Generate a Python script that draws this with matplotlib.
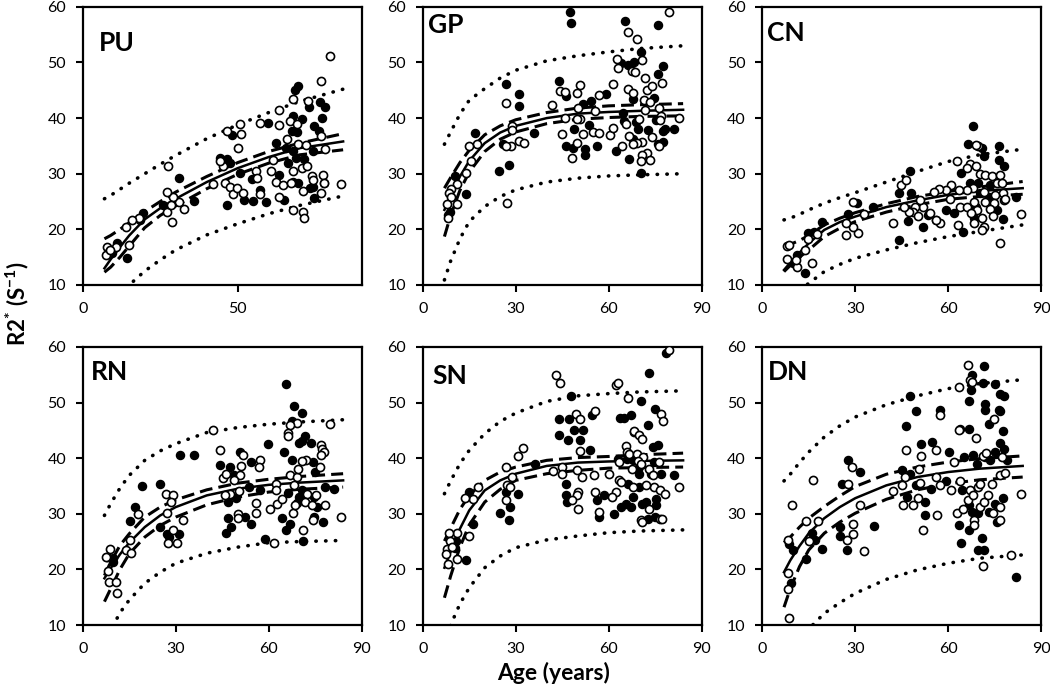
import matplotlib
matplotlib.use("Agg")
import matplotlib.pyplot as plt

plt.rcParams['font.family'] = ['Lato', 'DejaVu Sans']
plt.rcParams['mathtext.fontset'] = 'custom'
plt.rcParams['mathtext.rm'] = 'Lato'
plt.rcParams['mathtext.bf'] = 'Lato:bold'

# ---- data ----
fit_age = [7, 9, 12, 15, 20, 25, 30, 40, 50, 60, 70, 84]

# PU
pu_open_age = [79.7, 76.9, 67.7, 72.8, 63.2, 57.1, 50.8, 51.0, 46.5, 50.1, 63.2, 66.9, 69.0, 66.0, 69.4, 72.0, 77.0, 78.2,
               61.5, 45.2, 44.3, 60.6, 55.9, 56.1, 62.5, 64.5, 67.1, 67.9, 70.6, 72.3, 73.9, 74.4, 77.4, 77.7, 83.2, 76.9,
               70.9, 63.2, 67.9, 71.0, 71.5, 46.0, 47.5, 48.6, 49.9, 51.8, 57.3, 41.9, 32.7, 31.0, 29.0, 27.1, 27.4, 27.1,
               28.7, 28.4, 18.3, 15.9, 14.0, 14.8, 10.6, 7.7, 8.5, 7.5, 8.8]
pu_open_r2 = [51.1, 46.6, 43.4, 43.0, 41.4, 39.2, 38.9, 37.2, 37.7, 34.6, 38.7, 39.5, 38.9, 36.2, 35.3, 35.2, 36.8, 34.4,
              32.5, 31.4, 32.2, 30.4, 30.5, 29.2, 28.6, 28.0, 28.3, 30.4, 31.0, 31.4, 29.6, 28.9, 29.8, 28.3, 28.1, 26.6,
              26.9, 25.8, 23.5, 23.1, 22.0, 28.3, 27.7, 26.3, 27.4, 26.6, 26.3, 28.1, 23.7, 24.9, 25.9, 26.8, 31.3, 23.2,
              21.4, 24.4, 22.0, 21.6, 20.5, 17.2, 16.8, 16.9, 16.0, 15.4, 16.2]
pu_fill_age = [69.6, 68.6, 73.0, 76.6, 78.0, 77.2, 67.7, 70.8, 59.9, 74.7, 76.2, 67.4, 69.1, 62.2, 65.5, 67.7, 74.2, 68.8,
               71.4, 66.1, 46.5, 44.3, 47.5, 50.8, 54.5, 63.4, 67.9, 69.6, 73.3, 77.8, 74.4, 64.8, 74.7, 57.2, 55.0, 52.0,
               59.0, 46.5, 48.1, 31.1, 35.9, 26.0, 19.6, 18.5, 14.2, 11.0, 9.4]
pu_fill_r2 = [45.7, 45.1, 42.0, 42.9, 42.0, 40.1, 40.4, 39.8, 39.2, 38.5, 37.6, 37.7, 37.5, 35.6, 34.6, 34.0, 34.0, 32.8,
              32.6, 32.0, 32.6, 32.8, 31.9, 30.1, 29.0, 29.8, 28.6, 28.3, 27.4, 28.3, 27.7, 25.3, 25.6, 27.1, 25.1, 25.3,
              25.0, 24.3, 36.9, 29.3, 25.1, 24.4, 22.9, 21.7, 14.8, 17.5, 15.7]
pu_fit = [13.0, 14.6, 16.8, 18.9, 21.8, 23.8, 25.5, 28.5, 31.0, 33.0, 34.6, 35.8]
pu_ci_hi = [18.3, 18.9, 20.0, 21.2, 23.2, 25.0, 26.7, 29.5, 32.0, 34.0, 35.5, 37.2]
pu_ci_lo = [12.3, 13.2, 15.0, 17.0, 20.3, 22.5, 24.2, 27.3, 29.9, 31.9, 33.4, 34.3]
pu_pi_hi = [25.5, 26.1, 27.2, 28.3, 30.0, 31.7, 33.3, 36.3, 38.8, 41.0, 43.0, 45.2]
pu_pi_lo = [6.0, 7.3, 8.8, 10.0, 12.5, 14.5, 16.3, 19.0, 21.0, 22.8, 24.3, 26.0]

# GP
gp_open_age = [79.5, 66.1, 69.0, 62.6, 62.9, 70.7, 67.4, 68.6, 71.8, 72.5, 74.1, 77.1, 66.3, 67.7, 61.3, 56.8, 50.6, 49.8,
               44.4, 45.8, 41.8, 50.0, 50.8, 49.7, 45.9, 51.6, 55.7, 54.9, 56.8, 60.4, 45.0, 49.7, 48.2, 61.3, 65.6, 64.2,
               66.5, 69.8, 71.5, 73.3, 76.1, 76.8, 76.6, 82.7, 74.1, 76.3, 70.7, 72.5, 70.7, 70.4, 73.3, 69.0, 67.7, 27.0,
               28.9, 28.9, 30.9, 32.6, 28.5, 27.0, 27.2, 17.6, 15.0, 15.7, 14.0, 10.9, 9.1, 8.6, 9.1, 7.7, 10.9, 8.2, 71.8]
gp_open_r2 = [59.1, 55.5, 54.2, 50.7, 49.0, 50.4, 48.4, 48.3, 47.2, 45.1, 45.7, 46.3, 45.3, 44.6, 46.1, 44.1, 45.9, 44.6,
              44.9, 44.7, 42.3, 41.9, 39.9, 39.9, 40.1, 37.2, 41.3, 37.5, 37.4, 37.0, 37.1, 35.6, 32.9, 38.3, 38.9, 35.0,
              36.8, 39.9, 43.2, 42.9, 41.9, 40.4, 39.6, 40.1, 36.6, 35.0, 35.7, 33.7, 33.4, 32.3, 32.5, 35.6, 35.3, 42.8,
              38.6, 37.8, 35.9, 35.6, 34.9, 35.0, 24.8, 35.3, 35.0, 32.3, 30.1, 28.1, 27.2, 26.5, 25.9, 24.6, 24.6, 22.0, 41.4]
gp_fill_age = [47.4, 47.7, 65.4, 75.8, 70.4, 64.0, 66.2, 68.0, 77.6, 75.8, 74.5, 67.7, 43.8, 46.3, 51.6, 54.3, 59.1, 64.5,
               65.0, 68.8, 75.2, 78.2, 81.1, 48.8, 53.6, 46.3, 48.4, 52.2, 52.2, 56.2, 62.4, 66.5, 67.9, 69.5, 72.7, 75.9,
               77.4, 77.4, 70.4, 26.8, 30.9, 30.9, 24.6, 27.9, 25.9, 36.0, 16.8, 13.9, 10.3, 8.8, 8.3]
gp_fill_r2 = [59.0, 57.1, 57.5, 56.7, 51.8, 49.9, 49.6, 50.1, 49.3, 48.0, 43.7, 43.5, 46.6, 44.0, 42.5, 43.1, 44.3, 41.0,
              39.5, 39.3, 39.6, 38.1, 38.1, 38.1, 38.7, 34.9, 34.6, 34.4, 33.4, 34.9, 34.0, 32.6, 36.3, 38.1, 37.9, 35.4,
              37.6, 35.7, 30.1, 46.1, 44.3, 42.2, 30.4, 31.6, 35.3, 37.4, 37.4, 26.4, 29.6, 23.2, 22.6]
gp_fit = [23.5, 26.0, 29.5, 32.3, 35.5, 37.4, 38.6, 40.0, 40.8, 41.1, 41.3, 41.5]
gp_ci_hi = [27.4, 29.3, 32.0, 34.2, 37.0, 38.6, 39.7, 41.0, 41.8, 42.2, 42.4, 42.6]
gp_ci_lo = [18.7, 22.5, 27.0, 30.3, 34.0, 36.2, 37.5, 39.0, 39.8, 40.1, 40.3, 40.4]
gp_pi_hi = [35.3, 37.5, 40.7, 43.2, 45.3, 47.2, 48.6, 50.3, 51.2, 51.9, 52.5, 53.0]
gp_pi_lo = [10.9, 14.3, 18.3, 21.4, 24.1, 25.9, 27.1, 28.5, 29.2, 29.6, 29.8, 30.0]

# CN
cn_open_age = [69.5, 68.8, 62.8, 67.1, 69.0, 70.2, 66.1, 71.8, 74.1, 76.8, 75.8, 77.4, 77.6, 78.1, 71.4, 67.9, 66.1, 63.4,
               61.0, 59.4, 56.9, 55.5, 60.5, 63.9, 66.1, 68.3, 72.0, 75.1, 74.7, 73.3, 69.3, 67.4, 70.9, 74.4, 68.2, 71.4,
               70.9, 63.1, 57.2, 56.1, 54.2, 52.0, 51.0, 49.3, 48.5, 50.1, 47.2, 45.6, 44.8, 46.5, 42.1, 32.7, 31.0, 29.1,
               29.1, 27.0, 27.0, 17.8, 14.9, 13.9, 16.0, 11.1, 10.9, 7.9, 8.1, 8.5, 76.8, 83.3, 78.4]
cn_open_r2 = [35.0, 35.1, 32.3, 31.7, 31.4, 30.0, 31.0, 29.8, 29.6, 29.8, 28.4, 28.4, 26.6, 25.3, 26.8, 27.4, 27.0, 27.1,
              27.9, 27.1, 27.2, 26.8, 25.5, 24.1, 24.1, 25.0, 25.0, 26.2, 24.7, 23.6, 23.4, 22.9, 22.0, 22.4, 21.2, 20.5,
              19.9, 20.8, 21.2, 21.7, 22.9, 24.1, 25.3, 24.1, 23.2, 22.4, 23.1, 24.1, 28.0, 28.9, 21.1, 22.7, 19.3, 25.0,
              20.5, 21.2, 19.0, 19.2, 18.2, 16.2, 14.0, 13.3, 14.4, 14.6, 17.0, 17.1, 17.5, 22.7, 25.4]
cn_fill_age = [67.9, 66.3, 70.9, 76.3, 76.3, 78.1, 71.4, 64.1, 47.5, 44.0, 47.9, 30.5, 35.7, 27.8, 19.2, 16.8, 14.9, 13.8,
               44.0, 46.9, 52.0, 56.0, 53.3, 59.1, 61.8, 64.6, 68.3, 69.1, 67.1, 69.5, 73.0, 74.9, 75.8, 77.7, 81.7, 70.3,
               73.6, 11.1, 10.0]
cn_fill_r2 = [38.6, 35.3, 34.7, 34.9, 32.5, 31.4, 33.1, 30.1, 30.5, 26.6, 26.6, 24.7, 24.1, 22.7, 21.4, 19.6, 19.3, 12.1,
              18.1, 21.5, 20.4, 21.7, 22.6, 23.4, 22.9, 19.6, 22.0, 24.1, 28.4, 28.3, 25.9, 24.4, 23.5, 21.8, 25.9, 26.5,
              28.0, 15.4, 13.9]
cn_fit = [12.7, 14.0, 15.8, 17.5, 19.9, 21.3, 22.3, 24.0, 25.2, 26.2, 26.9, 27.4]
cn_ci_hi = [16.9, 17.3, 18.0, 18.9, 20.8, 22.0, 23.0, 24.6, 25.9, 26.8, 27.6, 28.6]
cn_ci_lo = [12.4, 13.5, 15.0, 16.3, 18.7, 20.2, 21.4, 23.1, 24.4, 25.4, 25.9, 26.3]
cn_pi_hi = [21.7, 22.0, 22.7, 23.5, 24.7, 25.7, 26.6, 28.5, 30.4, 32.2, 33.4, 34.4]
cn_pi_lo = [7.0, 7.8, 9.0, 10.3, 12.4, 13.7, 14.8, 16.3, 17.6, 18.7, 19.6, 20.8]

# RN
rn_open_age = [79.7, 69.2, 67.0, 66.2, 66.2, 41.9, 44.4, 77.0, 77.3, 77.8, 77.0, 71.9, 70.8, 57.3, 56.8, 51.7, 51.1, 50.6,
               48.7, 45.3, 46.3, 50.3, 47.6, 45.8, 56.0, 56.0, 50.0, 50.0, 60.5, 62.5, 62.5, 62.7, 64.3, 66.8, 68.3, 67.9,
               68.6, 69.0, 69.4, 72.4, 71.6, 73.8, 75.1, 76.7, 78.3, 74.4, 71.1, 83.2, 61.6, 26.8, 29.0, 28.6, 27.2, 29.1,
               27.4, 30.5, 32.5, 17.9, 15.1, 14.0, 15.6, 8.8, 7.8, 8.3, 8.6, 10.8, 10.9, 7.5]
rn_open_r2 = [46.1, 46.3, 46.0, 44.6, 44.0, 45.1, 41.4, 42.3, 41.7, 41.1, 40.5, 39.6, 39.5, 39.7, 38.4, 40.6, 38.6, 36.9,
              36.0, 36.5, 37.2, 34.1, 33.6, 33.3, 31.9, 30.1, 30.0, 29.3, 30.9, 35.4, 34.2, 31.8, 32.7, 36.9, 35.1, 30.1,
              31.5, 36.6, 38.1, 33.6, 32.1, 31.5, 33.3, 38.4, 31.5, 28.8, 27.1, 29.5, 24.8, 33.6, 33.3, 32.1, 30.1, 27.1,
              24.8, 24.8, 28.8, 29.9, 25.2, 23.4, 23.0, 23.7, 22.2, 19.7, 17.8, 17.8, 15.7, 22.2]
rn_fill_age = [65.7, 68.3, 70.6, 67.6, 71.7, 70.8, 69.7, 73.7, 59.8, 31.5, 35.8, 44.2, 47.4, 50.8, 54.3, 64.8, 67.6, 74.4,
               74.9, 48.7, 46.9, 49.3, 53.6, 57.1, 52.2, 54.3, 46.8, 47.9, 46.2, 64.3, 66.8, 65.7, 66.2, 69.7, 69.2, 70.8,
               74.6, 75.6, 74.6, 77.6, 78.3, 81.0, 71.1, 58.9, 25.0, 19.1, 16.7, 15.1, 24.8, 27.2, 27.7, 31.2, 9.9, 9.9]
rn_fill_r2 = [53.3, 49.4, 48.1, 46.7, 44.0, 43.0, 42.7, 42.7, 42.6, 40.6, 40.5, 38.8, 38.4, 41.1, 39.3, 41.1, 39.6, 39.3,
              37.5, 36.9, 32.1, 32.9, 34.8, 34.2, 29.4, 28.2, 29.3, 27.6, 26.5, 29.3, 28.2, 27.1, 33.7, 33.0, 31.9, 34.2,
              33.0, 31.2, 29.4, 28.5, 34.9, 34.5, 25.1, 25.4, 35.3, 35.0, 31.2, 28.7, 27.7, 26.4, 25.9, 26.4, 22.1, 21.3]
rn_fit = [18.4, 20.2, 22.7, 24.8, 27.6, 29.7, 31.2, 33.3, 34.5, 35.2, 35.6, 36.0]
rn_ci_hi = [18.9, 21.3, 24.3, 26.4, 29.4, 31.2, 32.5, 34.3, 35.5, 36.2, 36.7, 37.2]
rn_ci_lo = [14.2, 16.5, 20.0, 22.8, 25.8, 27.9, 29.4, 31.6, 33.0, 33.9, 34.4, 34.8]
rn_pi_hi = [29.7, 31.8, 34.6, 36.9, 39.6, 41.3, 42.6, 44.6, 45.5, 46.1, 46.5, 46.9]
rn_pi_lo = [6.5, 9.0, 12.2, 14.5, 17.5, 19.5, 21.1, 22.9, 24.0, 24.8, 25.0, 25.2]

# SN
sn_open_age = [79.5, 42.9, 44.2, 62.4, 62.9, 66.1, 49.5, 50.8, 55.7, 76.8, 77.4, 32.4, 30.8, 50.8, 65.6, 68.0, 68.3, 69.9,
               70.7, 65.8, 66.7, 69.0, 71.0, 69.4, 63.4, 67.5, 70.4, 73.1, 76.1, 74.2, 74.7, 72.0, 67.7, 76.5, 78.2, 82.7,
               63.4, 63.9, 62.4, 61.1, 60.2, 55.4, 51.5, 49.7, 45.0, 45.0, 42.0, 50.0, 49.7, 48.2, 50.0, 55.7, 57.0, 73.1,
               76.5, 77.2, 70.4, 70.7, 27.0, 27.3, 28.8, 28.3, 26.8, 17.9, 16.1, 13.6, 15.0, 10.9, 8.6, 8.8, 7.9, 7.5,
               8.3, 11.1, 9.3]
sn_open_r2 = [59.4, 54.9, 53.5, 53.2, 53.5, 50.9, 48.0, 47.1, 48.5, 48.0, 46.7, 41.9, 40.3, 41.3, 42.1, 44.7, 44.9, 44.1,
              43.5, 41.1, 40.8, 40.8, 40.2, 39.4, 39.3, 38.1, 39.0, 38.1, 39.3, 36.9, 34.8, 35.1, 34.8, 34.2, 33.6, 34.9,
              36.0, 35.7, 34.0, 33.0, 37.2, 36.9, 36.6, 37.8, 38.4, 37.2, 37.6, 34.0, 33.3, 32.4, 30.9, 33.9, 30.3, 30.9,
              29.1, 29.0, 28.8, 28.5, 38.4, 35.2, 36.6, 34.8, 32.4, 34.8, 32.6, 32.8, 26.0, 26.6, 26.6, 25.1, 23.6, 22.7,
              20.9, 21.8, 24.1]
sn_fill_age = [72.9, 75.0, 47.7, 43.9, 47.2, 48.7, 51.8, 50.6, 46.9, 54.6, 63.8, 65.0, 67.3, 70.4, 72.6, 43.8, 53.8, 74.4,
               75.8, 62.9, 65.8, 67.7, 69.9, 73.6, 74.7, 76.8, 81.1, 66.1, 69.9, 67.7, 72.0, 75.2, 75.2, 65.6, 64.0, 67.2,
               70.7, 61.8, 58.6, 56.2, 56.8, 46.3, 46.1, 46.6, 69.9, 72.8, 74.9, 78.6, 36.1, 30.8, 24.9, 28.1, 27.9, 27.0,
               15.0, 16.1, 13.9, 10.7, 10.4]
sn_fill_r2 = [55.3, 48.9, 51.1, 47.1, 47.1, 45.0, 45.0, 43.2, 43.2, 47.7, 47.2, 47.2, 47.7, 50.2, 45.9, 44.1, 41.4, 42.0,
              42.3, 39.9, 39.9, 39.6, 38.4, 37.2, 39.3, 37.2, 36.9, 35.4, 34.8, 33.0, 32.1, 32.7, 31.5, 31.8, 31.2, 31.2,
              31.8, 30.0, 33.4, 32.5, 29.4, 35.4, 33.4, 32.2, 37.2, 29.1, 29.4, 58.9, 39.0, 33.6, 30.1, 31.2, 28.9, 34.0,
              34.0, 28.1, 21.7, 25.1, 23.9]
sn_fit = [20.3, 23.2, 27.3, 30.6, 34.2, 36.0, 37.2, 38.6, 39.2, 39.4, 39.5, 39.6]
sn_ci_hi = [25.1, 27.4, 30.8, 33.3, 36.0, 37.5, 38.4, 39.6, 40.1, 40.3, 40.6, 40.9]
sn_ci_lo = [14.9, 18.8, 24.0, 28.0, 32.1, 34.4, 36.0, 37.2, 37.8, 38.2, 38.3, 38.4]
sn_pi_hi = [33.6, 35.9, 39.0, 41.4, 44.4, 46.6, 48.1, 50.2, 51.2, 51.6, 51.9, 52.1]
sn_pi_lo = [6.5, 10.0, 13.8, 16.7, 20.3, 22.4, 23.9, 25.3, 26.0, 26.6, 26.9, 27.1]

# DN
dn_open_age = [66.3, 63.4, 67.1, 67.7, 57.2, 63.4, 69.1, 74.7, 46.4, 56.1, 51.2, 61.7, 71.2, 72.1, 77.4, 76.6, 78.4, 57.4,
               56.0, 50.4, 50.8, 46.1, 45.1, 42.1, 45.4, 48.6, 50.2, 52.0, 56.3, 60.8, 62.8, 64.8, 63.7, 66.3, 67.1, 68.0,
               69.5, 70.1, 70.1, 71.4, 72.7, 74.1, 76.8, 76.8, 74.5, 68.2, 68.2, 71.1, 80.1, 83.3, 32.9, 31.4, 29.0, 29.2,
               29.2, 27.3, 27.6, 18.1, 15.2, 14.1, 16.2, 8.4, 9.5, 8.4, 8.2, 8.7]
dn_open_r2 = [56.7, 52.8, 54.0, 53.7, 47.7, 45.1, 43.7, 47.1, 41.4, 41.4, 40.4, 39.3, 40.4, 40.9, 40.2, 36.9, 37.4, 35.1,
              36.6, 38.0, 35.6, 36.6, 35.1, 34.1, 31.6, 31.6, 32.8, 27.1, 29.8, 34.3, 30.1, 30.8, 35.9, 32.5, 34.3, 33.4,
              34.9, 31.3, 35.4, 32.2, 33.4, 35.4, 31.3, 28.9, 30.1, 28.9, 28.0, 20.6, 22.6, 33.5, 23.3, 31.6, 38.4, 28.1,
              26.3, 25.3, 35.4, 28.7, 25.1, 28.7, 36.0, 25.3, 31.6, 19.4, 16.4, 11.3]
dn_fill_age = [71.4, 67.7, 67.4, 66.6, 71.1, 75.0, 72.0, 72.0, 76.6, 77.9, 76.3, 76.6, 47.7, 49.5, 57.2, 46.4, 63.7, 66.6,
               73.0, 77.7, 76.6, 75.2, 77.9, 51.2, 54.7, 60.1, 65.0, 68.0, 69.3, 71.7, 73.6, 79.0, 45.0, 47.7, 46.7, 49.7,
               54.3, 59.4, 52.6, 52.6, 64.4, 66.6, 67.7, 69.5, 73.0, 75.2, 75.8, 77.7, 66.6, 70.9, 64.1, 63.4, 69.5, 71.4,
               82.0, 36.1, 31.4, 27.5, 25.6, 25.1, 25.1, 27.3, 19.2, 17.0, 15.9, 14.1, 10.0, 9.2, 8.5]
dn_fill_r2 = [56.6, 55.0, 52.2, 50.2, 53.5, 53.4, 49.7, 48.7, 51.5, 51.1, 48.7, 48.5, 51.1, 48.5, 48.7, 45.7, 45.3, 45.3,
              46.2, 44.9, 42.8, 41.1, 41.7, 42.6, 42.9, 41.1, 40.2, 40.5, 39.0, 40.2, 39.6, 39.6, 37.8, 37.2, 33.0, 35.1,
              34.5, 35.9, 32.1, 29.8, 34.3, 31.6, 30.4, 30.1, 30.4, 31.7, 28.6, 32.9, 27.0, 25.7, 24.8, 28.0, 23.4, 23.5,
              18.7, 27.8, 37.5, 39.6, 35.3, 27.7, 26.0, 23.5, 23.6, 25.3, 26.6, 21.8, 23.5, 17.5, 24.6]
dn_fit = [19.5, 21.6, 24.2, 26.5, 29.2, 31.2, 32.8, 35.1, 36.6, 37.5, 38.1, 38.6]
dn_ci_hi = [24.8, 25.8, 27.6, 29.2, 31.3, 33.2, 34.9, 37.1, 38.4, 39.3, 39.9, 40.4]
dn_ci_lo = [13.2, 16.5, 20.5, 23.5, 26.5, 28.5, 30.1, 32.6, 34.3, 35.4, 36.1, 36.6]
dn_pi_hi = [35.9, 37.1, 39.2, 41.1, 43.8, 45.8, 47.4, 49.6, 51.2, 52.5, 53.4, 54.1]
dn_pi_lo = [3.0, 4.5, 7.0, 9.3, 12.1, 14.0, 15.7, 18.2, 19.9, 21.1, 22.0, 22.6]

panels = [
    ("PU", pu_open_age, pu_open_r2, pu_fill_age, pu_fill_r2, pu_fit, pu_ci_hi, pu_ci_lo, pu_pi_hi, pu_pi_lo, [0, 50]),
    ("GP", gp_open_age, gp_open_r2, gp_fill_age, gp_fill_r2, gp_fit, gp_ci_hi, gp_ci_lo, gp_pi_hi, gp_pi_lo, [0, 30, 60, 90]),
    ("CN", cn_open_age, cn_open_r2, cn_fill_age, cn_fill_r2, cn_fit, cn_ci_hi, cn_ci_lo, cn_pi_hi, cn_pi_lo, [0, 30, 60, 90]),
    ("RN", rn_open_age, rn_open_r2, rn_fill_age, rn_fill_r2, rn_fit, rn_ci_hi, rn_ci_lo, rn_pi_hi, rn_pi_lo, [0, 30, 60, 90]),
    ("SN", sn_open_age, sn_open_r2, sn_fill_age, sn_fill_r2, sn_fit, sn_ci_hi, sn_ci_lo, sn_pi_hi, sn_pi_lo, [0, 30, 60, 90]),
    ("DN", dn_open_age, dn_open_r2, dn_fill_age, dn_fill_r2, dn_fit, dn_ci_hi, dn_ci_lo, dn_pi_hi, dn_pi_lo, [0, 30, 60, 90]),
]

# ---- layout ----
fig = plt.figure(figsize=(10.5, 6.91), dpi=100)
lefts = [0.0788, 0.4026, 0.726]
bottoms = [0.5876, 0.0955]
w, h = 0.2657, 0.4025
label_pos = [(0.058, 0.87), (0.02, 0.935), (0.017, 0.906), (0.029, 0.908), (0.036, 0.896), (0.02, 0.908)]

for i, (name, oa, orr, fa, fr, fit, cih, cil, pih, pil, xt) in enumerate(panels):
    ax = fig.add_axes([lefts[i % 3], bottoms[i // 3], w, h])
    ax.plot(fit_age, pih, color='black', lw=2.6, linestyle=(0, (0.1, 2.6)), dash_capstyle='round', zorder=2)
    ax.plot(fit_age, pil, color='black', lw=2.6, linestyle=(0, (0.1, 2.6)), dash_capstyle='round', zorder=2)
    ax.plot(fit_age, cih, color='black', lw=2.2, linestyle=(0, (4.2, 2.0)), zorder=2)
    ax.plot(fit_age, cil, color='black', lw=2.2, linestyle=(0, (4.2, 2.0)), zorder=2)
    ax.plot(fit_age, fit, color='black', lw=1.8, zorder=2)
    ax.scatter(fa, fr, s=34, facecolor='black', edgecolor='black', linewidths=1.0, zorder=3)
    ax.scatter(oa, orr, s=34, facecolor='white', edgecolor='black', linewidths=1.2, zorder=4)
    ax.set_xlim(0, 90)
    ax.set_ylim(10, 60)
    ax.set_xticks(xt)
    ax.set_yticks([10, 20, 30, 40, 50, 60])
    for sp in ax.spines.values():
        sp.set_linewidth(1.6)
    ax.tick_params(direction='out', length=5, width=1.5, labelsize=11.5, colors='black', pad=7)
    ax.text(label_pos[i][0], label_pos[i][1], name, transform=ax.transAxes, fontsize=19,
            fontweight='bold', va='center', ha='left')

fig.text(0.016, 0.56, r'R2$^{\mathbf{*}}$ (S$^{\mathbf{-1}}$)', rotation=90, fontsize=16,
         fontweight='bold', va='center', ha='center')
fig.text(0.527, 0.026, 'Age (years)', fontsize=16.5, fontweight='bold', va='center', ha='center')

fig.savefig('out.png', dpi=100)
